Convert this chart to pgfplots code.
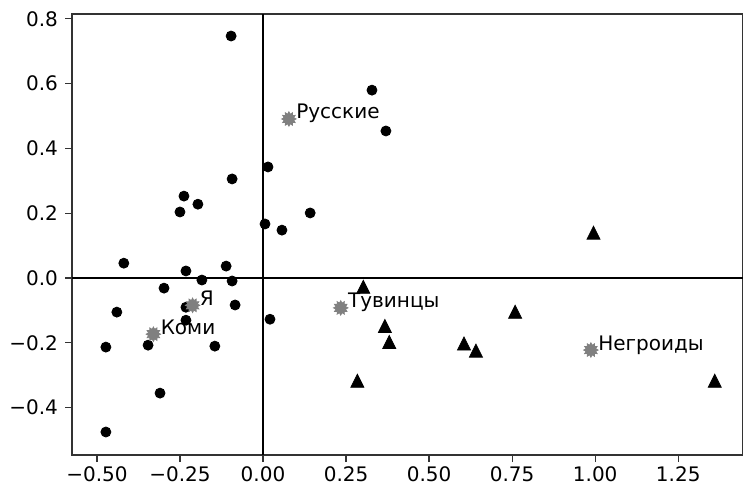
\documentclass[border=0pt]{standalone}
\usepackage{fontspec}
\setmainfont{DejaVu Sans}
\usepackage{pgfplots}
\pgfplotsset{compat=1.18}
\definecolor{stargray}{RGB}{128,128,128}

% triangle as in matplotlib: box-centred
\pgfdeclareplotmark{mtri}{%
  \pgfpathmoveto{\pgfqpoint{0pt}{\pgfplotmarksize}}%
  \pgfpathlineto{\pgfqpoint{-\pgfplotmarksize}{-\pgfplotmarksize}}%
  \pgfpathlineto{\pgfqpoint{\pgfplotmarksize}{-\pgfplotmarksize}}%
  \pgfpathclose\pgfusepathqfillstroke}
% 12-point sun
\pgfdeclareplotmark{sun}{%
  \pgfpathmoveto{\pgfpointpolar{90}{\pgfplotmarksize}}%
  \foreach \i in {1,...,23}{%
    \pgfmathsetmacro\rr{isodd(\i) ? 0.68 : 1}%
    \pgfpathlineto{\pgfpointpolar{90+15*\i}{\rr*\pgfplotmarksize}}}%
  \pgfpathclose\pgfusepathqfillstroke}

\begin{document}
\begin{tikzpicture}
\begin{axis}[
  scale only axis, width=335.5pt, height=220.5pt,
  xmin=-0.575, xmax=1.445, ymin=-0.546, ymax=0.815,
  axis line style={line width=0.6pt, black!80},
  tick align=outside, major tick length=3.5pt,
  tick style={line width=0.6pt, black!80},
  xtick pos=left, ytick pos=left,
  xtick={-0.5,-0.25,0,0.25,0.5,0.75,1,1.25},
  xticklabels={−0.50,−0.25,0.00,0.25,0.50,0.75,1.00,1.25},
  ytick={-0.4,-0.2,0,0.2,0.4,0.6,0.8},
  yticklabels={−0.4,−0.2,0.0,0.2,0.4,0.6,0.8},
  tick label style={font=\fontsize{10}{12}\selectfont},
  xticklabel style={yshift=1pt},
  clip=false,
]
\draw[line width=1.4pt] (axis cs:0,-0.546) -- (axis cs:0,0.815);
\draw[line width=1.4pt] (axis cs:-0.575,0) -- (axis cs:1.445,0);

\addplot[only marks, mark=*, mark size=2.5pt, black] table {
x y
-0.096 0.747
0.328 0.580
0.370 0.454
0.015 0.343
-0.093 0.306
-0.238 0.253
-0.196 0.228
-0.250 0.204
0.142 0.201
0.006 0.167
0.057 0.148
-0.419 0.046
-0.111 0.037
-0.232 0.022
-0.184 -0.006
-0.093 -0.009
-0.298 -0.031
-0.084 -0.083
-0.232 -0.090
-0.440 -0.105
-0.232 -0.130
0.021 -0.127
-0.346 -0.207
-0.473 -0.213
-0.145 -0.210
-0.310 -0.355
-0.473 -0.475
};

\addplot[only marks, mark=mtri, mark size=3.25pt, black] table {
x y
0.302 -0.027
0.367 -0.148
0.380 -0.197
0.284 -0.317
0.605 -0.202
0.641 -0.224
0.759 -0.104
0.995 0.140
1.360 -0.317
};

\addplot[only marks, mark=sun, mark size=3.6pt, stargray,
  point meta=explicit symbolic, nodes near coords,
  every node near coord/.style={anchor=base west, inner sep=0pt,
    xshift=3.5pt, text=black, font=\fontsize{10}{12}\selectfont}]
  table[meta=label] {
x y label
0.078 0.491 Русские
-0.212 -0.084 Я
-0.330 -0.173 Коми
0.234 -0.092 Тувинцы
0.987 -0.222 Негроиды
};
\coordinate (ll) at (rel axis cs:0,0);
\coordinate (ur) at (rel axis cs:1,1);
\end{axis}
\pgfresetboundingbox
\path ([xshift=-36pt,yshift=-15pt]ll) rectangle ([yshift=7pt]ur);
\end{tikzpicture}
\end{document}
